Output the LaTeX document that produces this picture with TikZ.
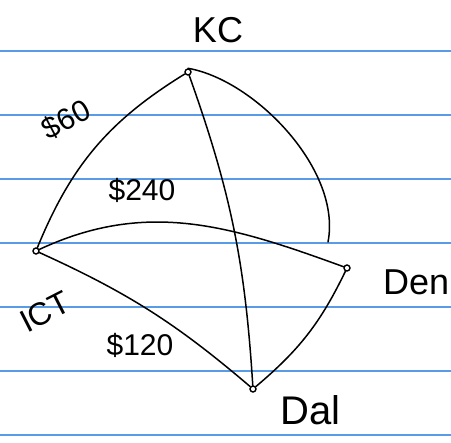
\documentclass[tikz,border=0pt]{standalone}
\usepackage{fontspec}
\setmainfont{Liberation Sans}
\usetikzlibrary{arrows.meta, calc, positioning}
\definecolor{Ink}  {HTML}{000000}
\definecolor{Rule} {HTML}{5A9BE8}
\tikzset{
  city/.style={
    circle, draw=Ink, fill=white, line width=1.4pt,
    inner sep=0pt, minimum size=6pt,
  },
  road/.style={
    draw=Ink, line width=1.5pt, line cap=round,
  },
  rule/.style={
    draw=Rule, line width=1.3pt,
  },
  tag/.style args={#1/#2}{
    font=\fontsize{#1}{#1}\selectfont, text=Ink,
    inner sep=0pt, rotate=#2,
  },
}

\begin{document}
\begin{tikzpicture}[x=1pt,y=-1pt]
    \useasboundingbox[fill=white] (0,0) rectangle (451,443);
    \foreach \yy in {51,115,179,243,307,371,435}
      \draw[rule] (0,\yy) -- (451,\yy);

    \node[city] (kc)  at (188,72)  {};
    \node[city] (ict) at (36,251)  {};
    \node[city] (den) at (347,268) {};
    \node[city] (dal) at (253,389) {};
    \coordinate (kcden) at (328,242);

    \draw[road] (kc)  to[bend right=18] (ict);
    \draw[road] (kc)  to[bend left=8]   (dal);
    \draw[road] (kc.north) .. controls (255,80) and (342,170) .. (kcden);
    \draw[road] (ict) to[out=25,in=160] (den);
    \draw[road] (ict) to[bend left=8]   (dal);
    \draw[road] (den) to[bend left=12]  (dal);

    \node[tag=36/0]  (kclbl)  at (218,30)  {KC};
    \node[tag=30/28] (c60)    at (66,120)  {\$60};
    \node[tag=30/0]  (c240)   at (142,190) {\$240};
    \node[tag=32/27] (ictlbl) at (45,312)  {ICT};
    \node[tag=30/0]  (c120)   at (140,345) {\$120};
    \node[tag=36/0, anchor=west] (denlbl) at (383,282) {Den};
    \node[tag=40/0, anchor=west] (dallbl) at (280,410) {Dal};
\end{tikzpicture}
\end{document}
